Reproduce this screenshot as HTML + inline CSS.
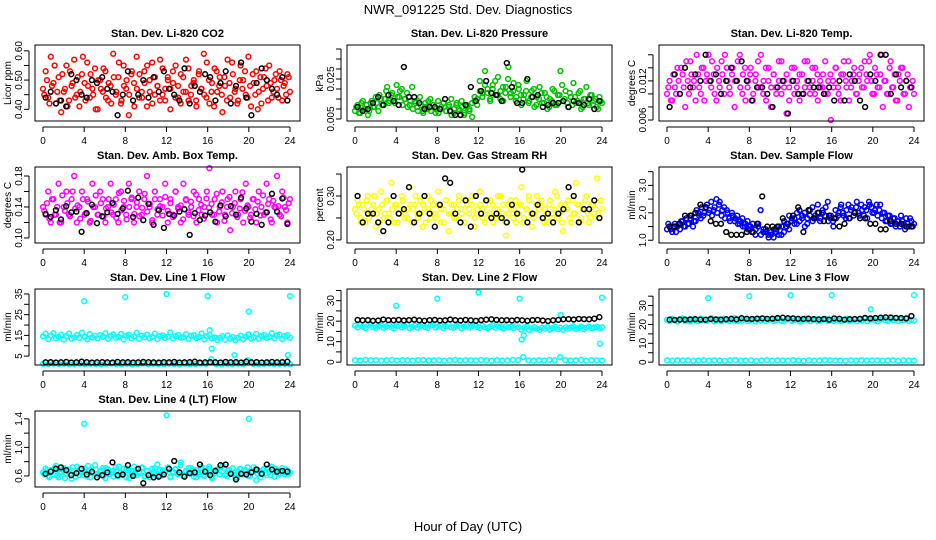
<!DOCTYPE html>
<html><head><meta charset="utf-8"><style>
html,body{margin:0;padding:0;background:#fff;}
svg{display:block;font-family:"Liberation Sans",sans-serif;}
</style></head><body>
<svg id="chart" width="936" height="540" viewBox="0 0 936 540">
<text x="468" y="14" text-anchor="middle" font-size="13">NWR_091225  Std. Dev. Diagnostics</text>
<text x="468" y="531" text-anchor="middle" font-size="13">Hour of Day (UTC)</text>
</svg>
<script>
const xTicks=[0,4,8,12,16,20,24];
const co2Red=[0.47,0.53,0.44,0.58,0.49,0.42,0.51,0.39,0.46,0.55,0.43,0.48,0.57,0.45,0.41,0.52,0.49,0.56,0.44,0.47,0.54,0.40,0.50,0.46,0.53,0.43,0.48,0.59,0.45,0.51,0.42,0.55,0.47,0.38,0.52,0.49,0.58,0.44,0.46,0.53,0.41,0.50,0.56,0.45,0.48,0.43,0.54,0.47,0.51,0.40,0.49,0.55,0.44,0.52,0.46,0.57,0.43,0.48,0.50,0.41,0.53,0.47,0.45,0.56,0.42,0.49,0.54,0.46,0.51,0.39,0.48,0.57,0.44,0.52,0.47,0.43,0.55,0.50,0.45,0.58,0.41,0.49,0.53,0.46,0.42,0.51,0.48,0.55,0.44,0.50,0.47,0.53,0.43,0.49,0.52,0.46];
const co2Red2=[0.45,0.50,0.42,0.48,0.55,0.46,0.43,0.52,0.47,0.41,0.53,0.49,0.44,0.51,0.46,0.58,0.43,0.48,0.52,0.45,0.40,0.50,0.47,0.54,0.44,0.49,0.42,0.51,0.46,0.56,0.43,0.48,0.50,0.45,0.53,0.41,0.47,0.52,0.44,0.49,0.55,0.46,0.42,0.51,0.48,0.57,0.45,0.43,0.50,0.47,0.53,0.44,0.48,0.42,0.51,0.46,0.54,0.45,0.49,0.43,0.52,0.47,0.59,0.44,0.50,0.46,0.41,0.53,0.48,0.45,0.51,0.43,0.49,0.56,0.46,0.42,0.50,0.47,0.53,0.44,0.48,0.52,0.45,0.40,0.51,0.47,0.54,0.43,0.49,0.46,0.52,0.44,0.50,0.48,0.45,0.51];
const co2Black=[0.44,0.46,0.42,0.43,0.41,0.52,0.50,0.45,0.44,0.50,0.49,0.51,0.47,0.46,0.38,0.45,0.53,0.43,0.45,0.50,0.44,0.51,0.46,0.53,0.47,0.45,0.43,0.54,0.42,0.48,0.46,0.52,0.51,0.43,0.49,0.53,0.42,0.48,0.56,0.44,0.38,0.49,0.54,0.50,0.47,0.45,0.51,0.43];
const presGreen=[0.009,0.012,0.008,0.014,0.010,0.007,0.013,0.011,0.016,0.009,0.015,0.012,0.019,0.013,0.017,0.014,0.022,0.016,0.020,0.015,0.018,0.012,0.021,0.014,0.011,0.016,0.009,0.013,0.010,0.015,0.012,0.008,0.014,0.010,0.013,0.009,0.011,0.015,0.008,0.012,0.010,0.014,0.007,0.011,0.009,0.013,0.016,0.012,0.024,0.018,0.029,0.020,0.015,0.022,0.017,0.026,0.019,0.014,0.021,0.031,0.018,0.023,0.016,0.020,0.012,0.017,0.024,0.014,0.019,0.011,0.016,0.021,0.013,0.018,0.010,0.015,0.020,0.012,0.017,0.029,0.014,0.019,0.011,0.016,0.023,0.013,0.018,0.010,0.015,0.021,0.012,0.017,0.014,0.011,0.016,0.013];
const presGreen2=[0.011,0.008,0.013,0.010,0.012,0.009,0.014,0.011,0.013,0.017,0.012,0.015,0.021,0.014,0.018,0.013,0.016,0.019,0.012,0.015,0.011,0.014,0.010,0.013,0.009,0.012,0.008,0.011,0.014,0.009,0.012,0.010,0.008,0.011,0.013,0.009,0.012,0.007,0.010,0.013,0.009,0.011,0.008,0.012,0.010,0.006,0.014,0.015,0.019,0.016,0.022,0.018,0.014,0.020,0.024,0.017,0.015,0.021,0.018,0.025,0.016,0.019,0.014,0.022,0.017,0.015,0.019,0.013,0.016,0.020,0.012,0.015,0.018,0.013,0.016,0.011,0.014,0.019,0.012,0.017,0.022,0.015,0.013,0.018,0.012,0.016,0.014,0.019,0.011,0.015,0.013,0.017,0.012,0.015,0.010,0.014];
const presBlack=[0.011,0.009,0.010,0.013,0.016,0.012,0.017,0.014,0.012,0.031,0.016,0.016,0.013,0.010,0.011,0.011,0.010,0.015,0.009,0.007,0.007,0.012,0.021,0.014,0.019,0.024,0.018,0.017,0.014,0.033,0.021,0.013,0.013,0.025,0.016,0.017,0.011,0.012,0.013,0.013,0.014,0.011,0.014,0.013,0.012,0.015,0.010,0.014];
const tempMag=[0.010,0.012,0.009,0.011,0.014,0.010,0.013,0.008,0.012,0.015,0.011,0.009,0.013,0.010,0.014,0.012,0.016,0.011,0.013,0.009,0.012,0.015,0.010,0.014,0.011,0.013,0.008,0.012,0.016,0.010,0.014,0.011,0.013,0.009,0.012,0.015,0.011,0.010,0.014,0.012,0.008,0.013,0.011,0.015,0.010,0.012,0.007,0.011,0.014,0.010,0.012,0.009,0.013,0.011,0.015,0.010,0.012,0.014,0.009,0.011,0.013,0.010,0.012,0.006,0.011,0.014,0.010,0.013,0.015,0.011,0.009,0.012,0.014,0.010,0.013,0.011,0.015,0.012,0.016,0.010,0.014,0.011,0.013,0.008,0.012,0.010,0.015,0.011,0.009,0.013,0.014,0.010,0.012,0.008,0.011,0.010];
const tempMag2=[0.011,0.009,0.013,0.010,0.012,0.014,0.011,0.015,0.010,0.013,0.012,0.016,0.011,0.014,0.009,0.013,0.012,0.015,0.010,0.014,0.011,0.013,0.016,0.012,0.010,0.014,0.012,0.015,0.011,0.013,0.009,0.012,0.014,0.010,0.013,0.011,0.016,0.012,0.009,0.014,0.011,0.013,0.010,0.012,0.015,0.011,0.013,0.009,0.012,0.014,0.011,0.013,0.010,0.015,0.012,0.011,0.014,0.010,0.013,0.012,0.011,0.015,0.010,0.013,0.012,0.014,0.011,0.009,0.013,0.012,0.015,0.011,0.013,0.010,0.012,0.014,0.011,0.013,0.015,0.012,0.010,0.013,0.011,0.016,0.012,0.010,0.014,0.011,0.013,0.009,0.012,0.014,0.010,0.013,0.011,0.012];
const tempBlack=[0.008,0.013,0.010,0.014,0.011,0.013,0.012,0.016,0.012,0.013,0.010,0.012,0.014,0.012,0.015,0.012,0.009,0.011,0.011,0.010,0.008,0.011,0.012,0.007,0.012,0.010,0.010,0.012,0.011,0.011,0.010,0.011,0.009,0.012,0.009,0.013,0.012,0.009,0.008,0.013,0.012,0.016,0.016,0.010,0.013,0.011,0.012,0.011];
const ambMag=[0.14,0.13,0.16,0.12,0.15,0.13,0.17,0.12,0.14,0.16,0.13,0.15,0.18,0.12,0.14,0.16,0.13,0.15,0.12,0.17,0.14,0.13,0.16,0.15,0.12,0.14,0.17,0.13,0.15,0.12,0.16,0.14,0.13,0.17,0.15,0.12,0.14,0.16,0.13,0.15,0.18,0.14,0.12,0.16,0.13,0.15,0.14,0.17,0.12,0.15,0.13,0.16,0.14,0.12,0.17,0.15,0.13,0.14,0.16,0.12,0.15,0.13,0.14,0.16,0.19,0.13,0.15,0.12,0.14,0.16,0.13,0.15,0.11,0.14,0.16,0.13,0.15,0.12,0.17,0.14,0.13,0.15,0.12,0.16,0.14,0.13,0.17,0.15,0.12,0.14,0.18,0.13,0.16,0.14,0.12,0.15];
const ambMag2=[0.135,0.145,0.125,0.150,0.130,0.140,0.120,0.155,0.135,0.145,0.128,0.160,0.138,0.142,0.125,0.150,0.132,0.147,0.122,0.140,0.155,0.130,0.145,0.127,0.138,0.150,0.133,0.143,0.126,0.158,0.136,0.148,0.124,0.140,0.152,0.131,0.146,0.128,0.139,0.157,0.134,0.144,0.123,0.150,0.137,0.141,0.129,0.153,0.135,0.145,0.127,0.160,0.138,0.142,0.124,0.149,0.133,0.147,0.128,0.156,0.136,0.143,0.125,0.151,0.139,0.144,0.130,0.157,0.134,0.146,0.122,0.140,0.153,0.132,0.145,0.127,0.138,0.159,0.135,0.142,0.126,0.150,0.137,0.147,0.129,0.155,0.133,0.144,0.124,0.148,0.139,0.141,0.128,0.152,0.136,0.145];
const ambBlack=[0.131,0.127,0.136,0.124,0.141,0.133,0.134,0.108,0.132,0.143,0.119,0.128,0.133,0.145,0.131,0.138,0.161,0.127,0.152,0.123,0.144,0.117,0.136,0.113,0.131,0.129,0.134,0.137,0.104,0.132,0.123,0.129,0.133,0.121,0.142,0.128,0.141,0.130,0.152,0.138,0.121,0.131,0.117,0.133,0.157,0.134,0.151,0.118];
const rhYellow=[0.27,0.29,0.25,0.28,0.24,0.30,0.26,0.28,0.23,0.27,0.31,0.25,0.29,0.26,0.33,0.24,0.28,0.26,0.30,0.25,0.27,0.32,0.24,0.28,0.26,0.29,0.23,0.27,0.30,0.25,0.28,0.26,0.31,0.24,0.27,0.29,0.22,0.26,0.28,0.25,0.30,0.27,0.24,0.29,0.26,0.28,0.23,0.27,0.31,0.25,0.28,0.26,0.29,0.24,0.27,0.30,0.25,0.28,0.21,0.26,0.29,0.27,0.24,0.28,0.32,0.25,0.27,0.29,0.23,0.26,0.30,0.28,0.25,0.27,0.24,0.29,0.26,0.31,0.25,0.28,0.22,0.27,0.29,0.24,0.26,0.33,0.28,0.25,0.27,0.30,0.24,0.28,0.26,0.34,0.25,0.27];
const rhYellow2=[0.26,0.28,0.24,0.27,0.29,0.25,0.27,0.30,0.26,0.24,0.28,0.26,0.29,0.25,0.27,0.28,0.24,0.27,0.29,0.26,0.25,0.28,0.27,0.30,0.25,0.26,0.28,0.24,0.27,0.29,0.26,0.25,0.28,0.27,0.24,0.29,0.26,0.28,0.25,0.27,0.29,0.26,0.24,0.28,0.27,0.30,0.25,0.26,0.28,0.27,0.24,0.29,0.26,0.28,0.25,0.27,0.30,0.26,0.24,0.28,0.27,0.25,0.29,0.26,0.28,0.24,0.27,0.30,0.26,0.25,0.28,0.27,0.29,0.24,0.26,0.28,0.25,0.27,0.30,0.26,0.24,0.28,0.27,0.25,0.29,0.26,0.28,0.24,0.27,0.29,0.26,0.25,0.28,0.27,0.26,0.29];
const rhBlack=[0.30,0.24,0.26,0.26,0.24,0.22,0.24,0.30,0.26,0.27,0.32,0.24,0.26,0.30,0.26,0.23,0.28,0.34,0.33,0.26,0.24,0.29,0.23,0.30,0.26,0.29,0.25,0.26,0.25,0.24,0.28,0.26,0.36,0.24,0.26,0.28,0.25,0.26,0.24,0.26,0.27,0.32,0.30,0.24,0.27,0.27,0.29,0.25];
const flowBlue=[1.4,1.5,1.3,1.6,1.5,1.4,1.7,1.5,1.6,1.8,1.5,1.7,2.0,1.8,1.9,2.2,2.0,2.4,2.1,2.5,2.3,1.9,2.2,2.1,1.8,2.0,1.7,1.9,1.6,1.8,1.5,1.7,1.4,1.6,1.2,1.5,2.1,1.3,1.4,1.2,1.3,1.1,1.4,1.2,1.5,1.3,1.6,1.4,1.8,1.6,2.0,1.7,1.9,1.5,1.8,2.1,1.7,1.9,2.3,1.8,2.0,2.2,1.7,1.9,1.5,1.8,2.0,2.3,1.9,2.1,1.8,2.2,2.0,2.4,1.9,2.1,2.2,1.8,2.3,2.0,2.1,1.9,2.3,2.0,1.7,1.9,1.6,1.8,1.5,1.7,1.9,1.6,1.8,1.5,1.7,1.6];
const flowBlue2=[1.6,1.4,1.5,1.3,1.6,1.7,1.5,1.8,1.6,1.9,1.7,2.1,1.9,2.2,2.0,2.3,2.1,1.9,2.2,2.0,2.4,2.1,1.8,2.0,1.7,1.9,1.8,1.6,1.7,1.5,1.6,1.4,1.5,1.3,1.4,1.6,1.2,1.4,1.3,1.1,1.2,1.4,1.3,1.5,1.2,1.7,1.5,1.9,1.7,1.8,1.6,2.1,1.8,2.0,1.6,1.9,2.2,1.8,2.0,1.7,2.1,1.9,2.4,1.8,1.7,2.1,1.9,2.2,2.0,1.8,2.3,2.1,1.9,2.2,2.0,2.3,1.9,2.1,2.4,2.2,2.0,2.3,2.1,1.8,2.0,1.7,1.9,1.6,1.8,1.7,1.5,1.7,1.4,1.6,1.8,1.5];
const flowBlack=[1.5,1.5,1.6,1.9,1.9,2.0,2.3,2.2,1.7,1.6,1.6,1.3,1.2,1.2,1.2,1.3,1.3,1.6,2.6,1.5,1.5,1.5,1.8,1.6,1.9,2.2,1.3,2.1,1.8,2.0,1.7,1.9,1.8,1.5,1.6,1.8,2.0,1.8,1.8,1.6,1.6,1.4,1.4,1.7,1.6,1.6,1.5,1.5];
const l1Band=[14.5,15.8,13.2,14.9,16.1,13.6,14.2,15.4,12.9,14.7,15.9,13.4,14.1,15.2,13.8,16.3,14.4,13.1,15.6,14.0,14.8,13.5,15.1,14.3,16.0,13.3,14.6,15.5,13.9,14.2,15.7,13.0,14.8,15.3,13.7,14.5,16.2,13.4,14.9,14.1,15.4,13.6,14.3,15.8,13.2,14.7,15.0,13.8,14.4,16.4,13.5,14.6,15.2,13.9,14.1,15.6,13.3,14.8,15.1,13.7,14.2,15.9,13.0,14.5,15.3,13.6,14.0,12.8,13.8,14.6,12.9,15.0,13.4,14.2,12.7,13.9,14.8,13.1,14.4,15.5,13.5,14.1,15.7,13.3,14.7,15.2,13.8,14.3,16.0,13.6,14.9,15.4,13.2,14.6,15.1,13.9];
const l1Low=[1.3,1.1,1.4,1.2,1.3,1.0,1.2,1.4,1.1,1.3,1.2,1.0,1.3,1.4,1.1,1.2,1.3,1.0,1.2,1.4,1.1,1.3,1.2,1.1,1.4,1.2,1.0,1.3,1.1,1.2,1.4,1.3,3.5,1.2,1.0,1.3,1.1,1.4,1.2,3.0,1.3,1.1,1.2,1.4,1.0,1.3,1.2,1.1];
const l1Black=[2.0,2.1,1.9,2.0,2.2,1.9,2.0,2.3,2.1,1.9,2.0,2.1,2.0,1.9,2.2,2.0,2.1,1.9,2.0,2.2,2.1,2.0,1.9,2.1,2.0,2.2,1.9,2.0,2.1,2.3,1.9,2.0,2.1,2.0,1.9,2.2,2.0,2.1,1.9,2.3,2.0,2.1,1.9,2.0,2.2,2.0,2.1,2.3];
const l1OutH=[4,8,12,16,16.2,16.4,18.6,20,23.8,24];
const l1OutV=[31.5,33.5,35,34,17.5,8.5,5.5,26.5,5.5,34];
const l2Band=[17.8,16.9,18.2,17.3,16.6,17.9,18.4,17.1,16.8,17.6,18.1,16.7,17.4,18.3,17.0,16.5,17.7,18.0,16.9,17.5,18.2,16.6,17.2,17.9,16.8,17.6,18.3,17.1,16.7,17.8,18.1,16.9,17.3,18.0,16.6,17.5,18.4,17.0,16.8,17.7,18.2,16.5,17.4,17.9,16.9,17.6,18.1,17.2,16.7,17.8,17.0,16.6,17.3,18.0,16.8,17.5,17.1,16.4,17.7,16.9,17.2,16.6,17.8,17.0,15.9,16.8,17.4,15.7,16.5,17.1,16.2,15.8,16.9,16.3,17.2,15.9,16.6,17.3,16.1,16.8,15.8,17.0,16.4,16.9,17.5,16.2,16.7,17.3,16.0,16.8,17.4,16.5,16.9,17.2,16.6,17.0];
const l2Low=[1.0,0.8,1.1,0.9,1.0,0.7,0.9,1.1,0.8,1.0,0.9,0.7,1.0,1.1,0.8,0.9,1.0,0.7,0.9,1.1,0.8,1.0,0.9,0.8,1.1,0.9,0.7,1.0,0.8,0.9,1.1,1.0,2.5,0.9,0.7,1.0,0.8,1.1,0.9,2.5,1.0,0.8,0.9,1.1,0.7,1.0,0.9,0.8];
const l2Black=[20.6,20.4,20.5,20.2,20.3,20.8,20.5,20.4,20.6,20.3,20.5,20.7,20.4,20.2,20.5,20.6,20.3,20.4,20.8,20.5,20.3,20.6,20.4,20.2,20.5,20.7,20.9,20.6,20.4,20.5,20.3,20.6,20.4,20.2,20.5,20.6,20.3,20.1,20.4,20.6,20.9,21.0,20.8,21.1,21.0,20.9,21.2,22.0];
const l2OutH=[4,8,12,16,16.2,16.4,20,23.8,24];
const l2OutV=[27.5,31,34,31,11,13,23,9,31.5];
const l3Band=[22.5,21.8,23.0,22.2,21.5,22.8,23.2,21.9,22.4,21.6,22.9,22.1,21.7,23.1,22.3,21.9,22.6,23.3,21.8,22.0,22.7,21.6,23.0,22.4,21.9,22.2,23.4,21.7,22.5,22.1,22.9,21.8,22.3,23.0,21.6,22.6,22.0,23.2,21.9,22.4,22.8,21.7,22.2,23.1,22.0,21.8,22.6,23.0,21.9,22.3,22.7,21.6,22.1,23.2,22.4,21.8,22.5,22.9,21.7,22.0,22.6,23.1,21.9,22.3,21.8,22.7,22.0,21.6,22.4,23.0,21.9,22.2,22.8,21.7,22.5,22.1,23.1,21.8,22.4,22.9,22.0,21.7,22.6,23.2,22.1,21.9,22.7,22.3,23.0,21.8,22.5,22.2,22.9,21.9,22.4,22.1];
const l3Low=[1.0,0.8,1.1,0.9,1.0,0.7,0.9,1.1,0.8,1.0,0.9,0.7,1.0,1.1,0.8,0.9,1.0,0.7,0.9,1.1,0.8,1.0,0.9,0.8,1.1,0.9,0.7,1.0,0.8,0.9,1.1,1.0,0.9,0.9,0.7,1.0,0.8,1.1,0.9,1.0,1.0,0.8,0.9,1.1,0.7,1.0,0.9,0.8];
const l3Black=[22.5,22.4,22.6,22.5,22.7,22.8,22.6,22.5,22.9,22.7,22.6,22.8,23.0,22.7,23.3,23.0,22.9,23.1,23.2,23.0,23.1,23.4,23.6,23.3,23.2,23.0,22.9,23.1,22.8,22.7,22.9,22.6,23.2,23.0,22.6,22.8,22.9,23.0,23.5,23.2,23.4,23.6,23.8,23.7,23.5,23.4,23.2,24.5];
const l3OutH=[4,8,12,16,19.8,24];
const l3OutV=[34,35,35.5,35.5,28,35.5];
const l4Band=[0.65,0.70,0.60,0.68,0.62,0.74,0.58,0.66,0.71,0.63,0.69,0.56,0.67,0.73,0.61,0.65,0.70,0.59,0.68,0.64,0.75,0.62,0.66,0.71,0.57,0.69,0.63,0.67,0.72,0.60,0.65,0.70,0.58,0.68,0.64,0.73,0.61,0.66,0.71,0.59,0.67,0.63,0.70,0.62,0.76,0.60,0.68,0.65,0.72,0.58,0.66,0.70,0.63,0.79,0.61,0.67,0.64,0.71,0.59,0.68,0.62,0.73,0.60,0.66,0.70,0.57,0.65,0.69,0.62,0.74,0.61,0.67,0.64,0.71,0.58,0.66,0.70,0.63,0.68,0.60,0.65,0.72,0.54,0.67,0.63,0.70,0.61,0.66,0.73,0.59,0.68,0.64,0.71,0.62,0.67,0.65];
const l4Band2=[0.62,0.68,0.58,0.66,0.71,0.60,0.64,0.69,0.57,0.67,0.63,0.72,0.59,0.65,0.70,0.61,0.66,0.74,0.58,0.64,0.69,0.62,0.67,0.60,0.71,0.63,0.66,0.59,0.68,0.73,0.61,0.65,0.70,0.57,0.66,0.62,0.69,0.64,0.72,0.60,0.67,0.58,0.65,0.71,0.63,0.68,0.61,0.66,0.70,0.59,0.64,0.69,0.62,0.75,0.60,0.66,0.71,0.63,0.68,0.58,0.65,0.70,0.61,0.67,0.73,0.59,0.64,0.69,0.62,0.66,0.71,0.60,0.68,0.63,0.65,0.57,0.70,0.62,0.67,0.72,0.60,0.66,0.69,0.63,0.58,0.68,0.64,0.71,0.61,0.66,0.70,0.62,0.67,0.65,0.69,0.63];
const l4Black=[0.63,0.66,0.70,0.72,0.68,0.61,0.64,0.70,0.62,0.66,0.58,0.61,0.65,0.79,0.61,0.62,0.75,0.60,0.70,0.50,0.61,0.58,0.59,0.62,0.70,0.81,0.65,0.59,0.64,0.65,0.76,0.66,0.61,0.67,0.75,0.76,0.63,0.55,0.63,0.62,0.65,0.69,0.63,0.76,0.69,0.66,0.67,0.66];
const l4OutH=[4,12,20];
const l4OutV=[1.33,1.45,1.40];

const NS="http://www.w3.org/2000/svg";
const svg=document.getElementById('chart');
function mk(tag,attrs,parent){const e=document.createElementNS(NS,tag);for(const k in attrs)e.setAttribute(k,attrs[k]);(parent||svg).appendChild(e);return e;}
const colX=[35,347,659],rowY=[45,167,289,411],W=265,H=76;
const panels=[
 {t:"Stan. Dev. Li-820 CO2",y:"Licor ppm",c:0,r:0,lo:0.36,hi:0.62,ticks:[0.40,0.45,0.50,0.55,0.60],lab:[0.40,0.50,0.60],fmt:2,series:[[co2Red,"#ff0000",0],[co2Red2,"#ff0000",1]],black:co2Black},
 {t:"Stan. Dev. Li-820 Pressure",y:"kPa",c:1,r:0,lo:0.004,hi:0.042,ticks:[0.005,0.010,0.015,0.020,0.025,0.030,0.035,0.040],lab:[0.005,0.025],fmt:3,series:[[presGreen,"#00c000",0],[presGreen2,"#00c000",1]],black:presBlack},
 {t:"Stan. Dev. Li-820 Temp.",y:"degrees C",c:2,r:0,lo:0.00585,hi:0.0175,ticks:[0.006,0.008,0.010,0.012,0.014,0.016],lab:[0.006,0.012],fmt:3,series:[[tempMag,"#ff00ff",0],[tempMag2,"#ff00ff",1]],black:tempBlack},
 {t:"Stan. Dev. Amb. Box Temp.",y:"degrees C",c:0,r:1,lo:0.0935,hi:0.1916,ticks:[0.10,0.12,0.14,0.16,0.18],lab:[0.10,0.14,0.18],fmt:2,series:[[ambMag,"#ff00ff",0],[ambMag2,"#ff00ff",1]],black:ambBlack},
 {t:"Stan. Dev. Gas Stream RH",y:"percent",c:1,r:1,lo:0.193,hi:0.366,ticks:[0.20,0.25,0.30,0.35],lab:[0.20,0.30],fmt:2,series:[[rhYellow,"#ffff00",0],[rhYellow2,"#ffff00",1]],black:rhBlack},
 {t:"Stan. Dev. Sample Flow",y:"ml/min",c:2,r:1,lo:0.9,hi:3.67,ticks:[1.0,1.5,2.0,2.5,3.0,3.5],lab:[1.0,2.0,3.0],fmt:1,series:[[flowBlue,"#0000ff",0],[flowBlue2,"#0000ff",1]],black:flowBlack},
 {t:"Stan. Dev. Line 1 Flow",y:"ml/min",c:0,r:2,lo:0.7,hi:37.4,ticks:[5,10,15,20,25,30,35],lab:[5,15,25,35],fmt:0,series:[[l1Band,"#00ffff",0],[l1Low,"#00ffff",0]],black:l1Black,outH:l1OutH,outV:l1OutV},
 {t:"Stan. Dev. Line 2 Flow",y:"ml/min",c:1,r:2,lo:-1.4,hi:35.7,ticks:[0,5,10,15,20,25,30,35],lab:[0,10,20,30],fmt:0,series:[[l2Band,"#00ffff",0],[l2Low,"#00ffff",0]],black:l2Black,outH:l2OutH,outV:l2OutV},
 {t:"Stan. Dev. Line 3 Flow",y:"ml/min",c:2,r:2,lo:-1.5,hi:38.8,ticks:[0,5,10,15,20,25,30,35],lab:[0,10,20,30],fmt:0,series:[[l3Band,"#00ffff",0],[l3Low,"#00ffff",0]],black:l3Black,outH:l3OutH,outV:l3OutV},
 {t:"Stan. Dev. Line 4 (LT) Flow",y:"ml/min",c:0,r:3,lo:0.445,hi:1.51,ticks:[0.6,0.8,1.0,1.2,1.4],lab:[0.6,1.0,1.4],fmt:1,series:[[l4Band,"#00ffff",0],[l4Band2,"#00ffff",1]],black:l4Black,outH:l4OutH,outV:l4OutV}
];
panels.forEach((p,pi)=>{
 const x0=colX[p.c],y0=rowY[p.r];
 const g=mk('g',{});
 
 
 const xs=h=>x0+8+h/24*247;
 const ys=v=>y0+H-(v-p.lo)/(p.hi-p.lo)*H;
 const t=mk('text',{x:x0+W/2,y:y0-8,'text-anchor':'middle','font-size':11,'font-weight':'bold'},g);t.textContent=p.t;
 
 
 const yt=mk('text',{x:0,y:0,'text-anchor':'middle','font-size':10,transform:`translate(${x0-24},${y0+H/2}) rotate(-90)`},g);yt.textContent=p.y;
 
 
 const clip=mk('g',{},g);
 const pt=(h,v,col)=>{const c=mk('circle',{cx:xs(h).toFixed(1),cy:ys(v).toFixed(1),r:2.4,fill:'none',stroke:col,'stroke-width':1.5},clip);
  
  };
 p.series.forEach(([arr,col,off])=>{arr.forEach((v,i)=>pt(off?(i+0.5)*24/arr.length:i*24/(arr.length-1),v,col));});
 if(p.outH)p.outH.forEach((h,i)=>pt(h,p.outV[i],'#00ffff'));
 p.black.forEach((v,i)=>pt((i+0.5)*24/p.black.length,v,'#000'));
 const box=mk('rect',{x:x0,y:y0,width:W,height:H,fill:'none',stroke:'#000','stroke-width':1},g);
 
 
 mk('line',{x1:xs(0),x2:xs(24),y1:y0+H+6,y2:y0+H+6,stroke:'#000'},g);
 xTicks.forEach(h=>{mk('line',{x1:xs(h),x2:xs(h),y1:y0+H+6,y2:y0+H+11,stroke:'#000'},g);
  const l=mk('text',{x:xs(h),y:y0+H+23,'text-anchor':'middle','font-size':10},g);l.textContent=h;
  
  });
 const ty0=ys(p.ticks[0]),ty1=ys(p.ticks[p.ticks.length-1]);
 mk('line',{x1:x0-6,x2:x0-6,y1:ty0,y2:ty1,stroke:'#000'},g);
 p.ticks.forEach(v=>mk('line',{x1:x0-11,x2:x0-6,y1:ys(v),y2:ys(v),stroke:'#000'},g));
 p.lab.forEach(v=>{const l=mk('text',{x:0,y:0,'text-anchor':'middle','font-size':10,transform:`translate(${x0-13},${ys(v)}) rotate(-90)`},g);l.textContent=v.toFixed(p.fmt);
  
  });
});
</script>
</body></html>
